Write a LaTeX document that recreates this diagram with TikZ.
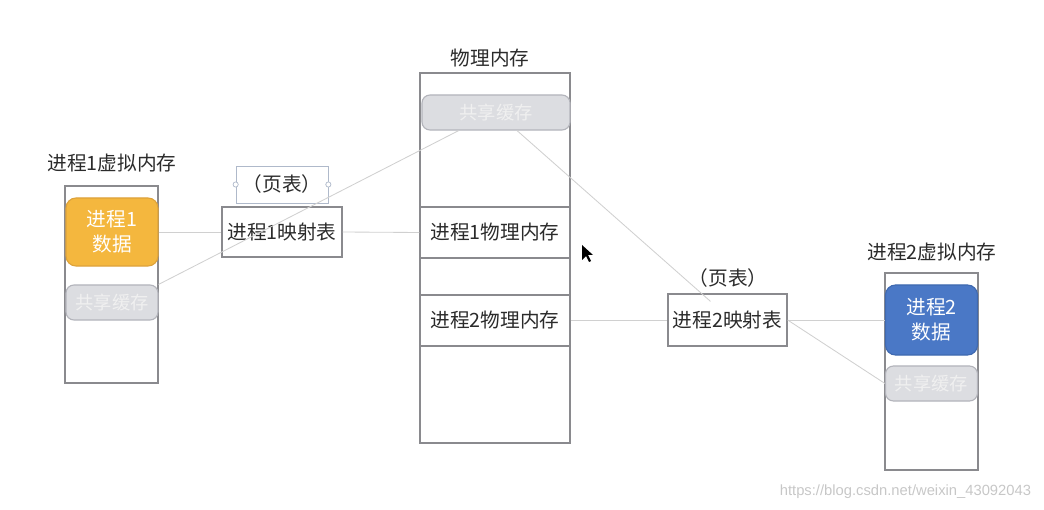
\documentclass[tikz,border=0pt]{standalone}
\usepackage{fontspec}
\setmainfont{Noto Sans CJK SC}
\newfontfamily\urlfont{Liberation Sans}
\usetikzlibrary{calc}

\definecolor{boxline}{HTML}{8A8A8E}
\definecolor{linkgray}{HTML}{D0D0D0}
\definecolor{dataorange}{HTML}{F4B73E}
\definecolor{orangeline}{HTML}{DDA23A}
\definecolor{datablue}{HTML}{4A78C6}
\definecolor{blueline}{HTML}{3F69B0}
\definecolor{sharefill}{HTML}{DCDDE1}
\definecolor{shareline}{HTML}{B3B4BB}
\definecolor{textgray}{HTML}{2B2B2B}
\definecolor{handleblue}{HTML}{AFB9CA}

\tikzset{
    base/.style={font=\fontsize{14}{18}\selectfont, text=textgray, inner sep=0pt, align=center},
    frame/.style={base, draw=boxline, line width=0.85pt, fill=white},
    vmem/.style={frame, minimum width=2.325cm, minimum height=4.925cm},
    physmem/.style={frame, minimum width=3.75cm, minimum height=9.25cm},
    region/.style={frame, minimum width=3.75cm, minimum height=1.275cm},
    maptab/.style={frame, minimum width=3cm, minimum height=1.25cm},
    datablk/.style={base, text=white, rounded corners=0.25cm, line width=0.8pt,
        minimum width=2.3cm, minimum height=1.7cm},
    sharedblk/.style={base, font=\fontsize{13}{16}\selectfont, text=white!94!black,
        fill=sharefill, draw=shareline, rounded corners=0.2cm, line width=0.8pt,
        minimum width=2.3cm, minimum height=0.875cm},
    link/.style={draw=linkgray, line width=0.6pt}
}

\begin{document}
\begin{tikzpicture}[x=0.025cm, y=-0.025cm]
    \useasboundingbox (0,0) rectangle (1044,510);

    % Process 1 virtual memory
    \node[base] (title1) at (112,163) {进程1虚拟内存};
    \node[vmem] (vm1) at (111.5,284.5) {};
    \node[datablk, fill=dataorange, draw=orangeline] (data1) at (112,232) {进程1\\数据};
    \node[sharedblk] (share1) at (112,302.5) {共享缓存};

    % Page table 1
    \node[base, draw=handleblue, line width=0.5pt, minimum width=2.3cm, minimum height=0.925cm] (page1) at (282,184.5) {（页表）};
    \draw[handleblue, fill=white, line width=0.5pt] (page1.west) circle (0.065cm);
    \draw[handleblue, fill=white, line width=0.5pt] (page1.east) circle (0.065cm);
    \node[maptab] (map1) at (282,232) {进程1映射表};

    % Physical memory
    \node[base] (title0) at (490,58) {物理内存};
    \node[physmem] (phys) at (495,258) {};
    \node[sharedblk, minimum width=3.7cm] (share0) at (496,112.5) {共享缓存};
    \node[region] (pm1) at (495,232.5) {进程1物理内存};
    \node[region] (pm2) at (495,320.5) {进程2物理内存};

    % Page table 2
    \node[base] (page2) at (728,278) {（页表）};
    \node[maptab, minimum width=2.975cm, minimum height=1.3cm] (map2) at (727.5,320) {进程2映射表};

    % Process 2 virtual memory
    \node[base] (title2) at (932,252) {进程2虚拟内存};
    \node[vmem] (vm2) at (931.5,371.5) {};
    \node[datablk, fill=datablue, draw=blueline, minimum height=1.75cm] (data2) at (931.5,320) {进程2\\数据};
    \node[sharedblk] (share2) at (931.5,383.5) {共享缓存};

    % Links
    \draw[link] (data1.east |- map1.west) -- (map1.west);
    \draw[link] (map1.east) -- (pm1.west);
    \draw[link] (share1.north east) -- ($(share0.south west)!0.25!(share0.south east)$);
    \draw[link] ($(share0.south)+(21,0)$) -- ($(map2.north)+(-17,8)$);
    \draw[link] (pm2.east) -- (map2.west |- pm2.east);
    \draw[link] (map2.east) -- (data2.west |- map2.east);
    \draw[link] (map2.east) -- (share2.west);

    % Mouse pointer
    \fill[black] (582,245) -- ++(0,15) -- ++(4,-4) -- ++(3,6) -- ++(2,-1) -- ++(-3,-6) -- ++(5,0) -- cycle;

    % Watermark
    \node[text=black!22, font=\urlfont\fontsize{10.5}{12}\selectfont, anchor=east] (mark) at (1036,492) {https://blog.csdn.net/weixin\_43092043};
\end{tikzpicture}
\end{document}
